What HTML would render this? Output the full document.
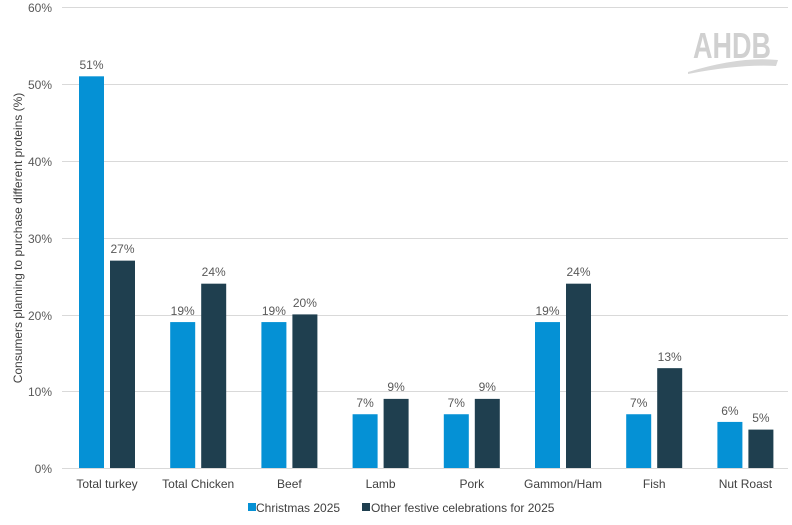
<!DOCTYPE html>
<html><head><meta charset="utf-8"><style>body{margin:0;background:#fff}svg{display:block;font-family:"Liberation Sans",Arial,sans-serif}</style></head><body>
<svg width="792" height="525" viewBox="0 0 792 525">
<g stroke="#d9d9d9" stroke-width="1">
<line x1="62" y1="7.5" x2="788" y2="7.5"/><line x1="62" y1="84.5" x2="788" y2="84.5"/><line x1="62" y1="161.5" x2="788" y2="161.5"/><line x1="62" y1="238.5" x2="788" y2="238.5"/><line x1="62" y1="315.5" x2="788" y2="315.5"/><line x1="62" y1="391.5" x2="788" y2="391.5"/><line x1="62" y1="468.5" x2="788" y2="468.5"/>
</g>
<g font-size="12" fill="#595959" text-anchor="end">
<text x="52" y="12">60%</text><text x="52" y="89">50%</text><text x="52" y="166">40%</text><text x="52" y="243">30%</text><text x="52" y="320">20%</text><text x="52" y="396">10%</text><text x="52" y="473">0%</text>
</g>
<text transform="translate(22,238) rotate(-90)" font-size="12" fill="#404040" text-anchor="middle">Consumers planning to purchase  different proteins (%)</text>
<text x="693" y="58" font-size="36" font-weight="bold" fill="#d0d0d0" textLength="78" lengthAdjust="spacingAndGlyphs">AHDB</text>
<path d="M688 72 Q740 56 778 60 L776 66 Q740 64 688 74 Z" fill="#d6d6d6"/>
<g fill="#0591d5">
<rect x="79" y="76.32" width="25" height="391.68"/>
<rect x="170.2" y="322.08" width="25" height="145.92"/>
<rect x="261.4" y="322.08" width="25" height="145.92"/>
<rect x="352.6" y="414.24" width="25" height="53.76"/>
<rect x="443.8" y="414.24" width="25" height="53.76"/>
<rect x="535" y="322.08" width="25" height="145.92"/>
<rect x="626.2" y="414.24" width="25" height="53.76"/>
<rect x="717.4" y="421.92" width="25" height="46.08"/>
</g>
<g fill="#1f3f4f">
<rect x="110" y="260.64" width="25" height="207.36"/>
<rect x="201.2" y="283.68" width="25" height="184.32"/>
<rect x="292.4" y="314.4" width="25" height="153.6"/>
<rect x="383.6" y="398.88" width="25" height="69.12"/>
<rect x="474.8" y="398.88" width="25" height="69.12"/>
<rect x="566" y="283.68" width="25" height="184.32"/>
<rect x="657.2" y="368.16" width="25" height="99.84"/>
<rect x="748.4" y="429.6" width="25" height="38.4"/>
</g>
<g font-size="12" fill="#595959" text-anchor="middle">
<text x="91.5" y="69">51%</text><text x="182.7" y="315">19%</text><text x="273.9" y="315">19%</text><text x="365.1" y="407">7%</text><text x="456.3" y="407">7%</text><text x="547.5" y="315">19%</text><text x="638.7" y="407">7%</text><text x="729.9" y="415">6%</text>
<text x="122.5" y="253">27%</text><text x="213.7" y="276">24%</text><text x="304.9" y="307">20%</text><text x="396.1" y="391">9%</text><text x="487.3" y="391">9%</text><text x="578.5" y="276">24%</text><text x="669.7" y="361">13%</text><text x="760.9" y="422">5%</text>
</g>
<g font-size="12" fill="#404040" text-anchor="middle">
<text x="107" y="488">Total turkey</text><text x="198.2" y="488">Total Chicken</text><text x="289.4" y="488">Beef</text><text x="380.6" y="488">Lamb</text><text x="471.8" y="488">Pork</text><text x="563" y="488">Gammon/Ham</text><text x="654.2" y="488">Fish</text><text x="745.4" y="488">Nut Roast</text>
</g>
<rect x="248" y="503" width="8" height="8" fill="#0591d5"/>
<text x="256" y="512" font-size="12" fill="#404040">Christmas 2025</text>
<rect x="362" y="503" width="8" height="8" fill="#1f3f4f"/>
<text x="371" y="512" font-size="12" fill="#404040">Other festive celebrations for 2025</text>
</svg>
</body></html>
